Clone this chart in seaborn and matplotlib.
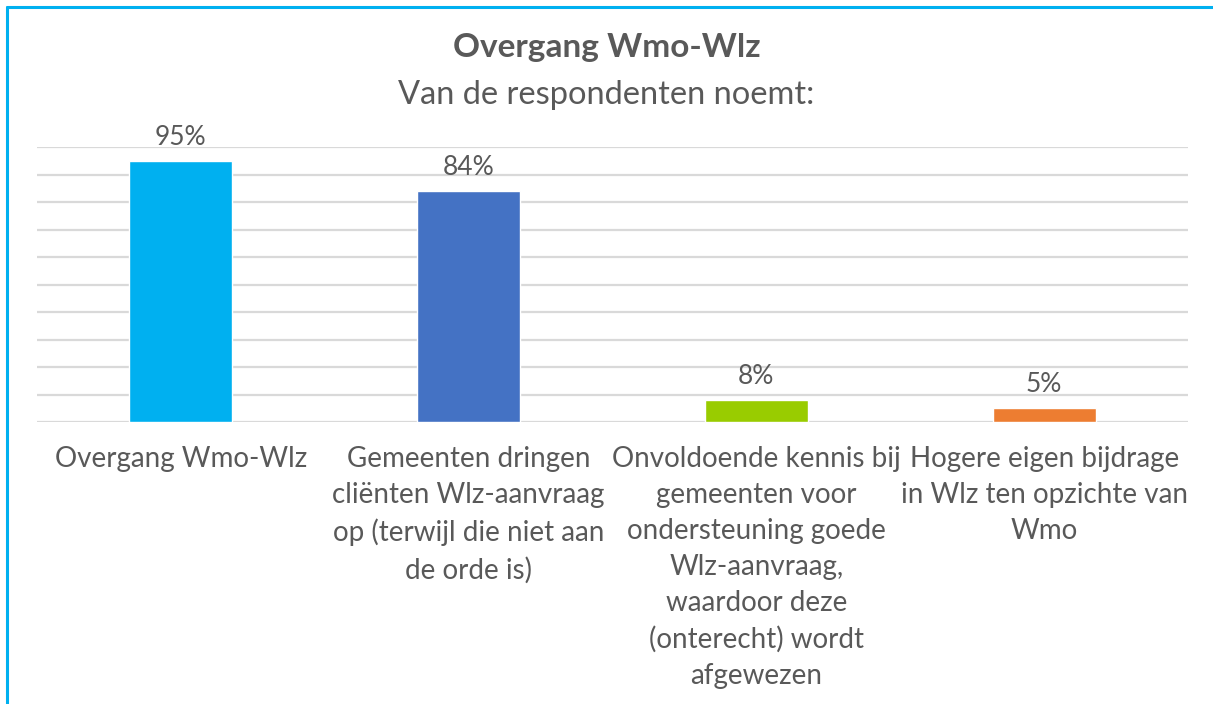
import seaborn as sns
import pandas as pd
import matplotlib.pyplot as plt
from matplotlib.lines import Line2D

categories = [
    "Overgang Wmo-Wlz",
    "Gemeenten dringen\ncliënten Wlz-aanvraag\nop (terwijl die niet aan\nde orde is)",
    "Onvoldoende kennis bij\ngemeenten voor\nondersteuning goede\nWlz-aanvraag,\nwaardoor deze\n(onterecht) wordt\nafgewezen",
    "Hogere eigen bijdrage\nin Wlz ten opzichte van\nWmo",
]
percentages = [95, 84, 8, 5]
colors = ["#00B0F0", "#4472C4", "#99CC00", "#ED7D31"]

sns.set_style("white")
plt.rcParams["font.family"] = ["Lato", "DejaVu Sans"]
text_color = "#595959"

df = pd.DataFrame({"category": categories, "pct": percentages})

fig = plt.figure(figsize=(12.13, 7.04), dpi=100)
ax = fig.add_axes([37 / 1213, 1 - 422 / 704, (1188 - 37) / 1213, 275 / 704])

sns.barplot(data=df, x="category", y="pct", hue="category", palette=colors,
            legend=False, width=0.358, saturation=1, ax=ax)

ax.set_ylim(0, 100)
ax.set_yticks(range(0, 101, 10))
ax.yaxis.grid(True, color="#D9D9D9", linewidth=1.6)
ax.set_axisbelow(True)
ax.tick_params(axis="y", left=False, labelleft=False)
ax.tick_params(axis="x", bottom=False, labelsize=20, labelcolor=text_color, pad=14)
for lbl in ax.get_xticklabels():
    lbl.set_linespacing(1.47)
    lbl.set_verticalalignment("top")
for s in ax.spines.values():
    s.set_visible(False)
ax.set(xlabel="", ylabel="")

for c in ax.containers:
    ax.bar_label(c, fmt="%g%%", padding=8, fontsize=19, color=text_color)

fig.text(0.5, 1 - 48 / 704, "Overgang Wmo-Wlz", ha="center", va="center",
         fontsize=24, fontweight="bold", color=text_color)
fig.text(0.5, 1 - 95 / 704, "Van de respondenten noemt:", ha="center", va="center",
         fontsize=23.5, color=text_color)

# chart frame edges (top and left)
fig.add_artist(Line2D([6.5 / 1213, 1], [1 - 6.5 / 704] * 2, color="#00B0F0", lw=2.2,
                      transform=fig.transFigure))
fig.add_artist(Line2D([6.5 / 1213] * 2, [0, 1 - 6.5 / 704], color="#00B0F0", lw=2.2,
                      transform=fig.transFigure))

fig.savefig("out.png", dpi=100)
